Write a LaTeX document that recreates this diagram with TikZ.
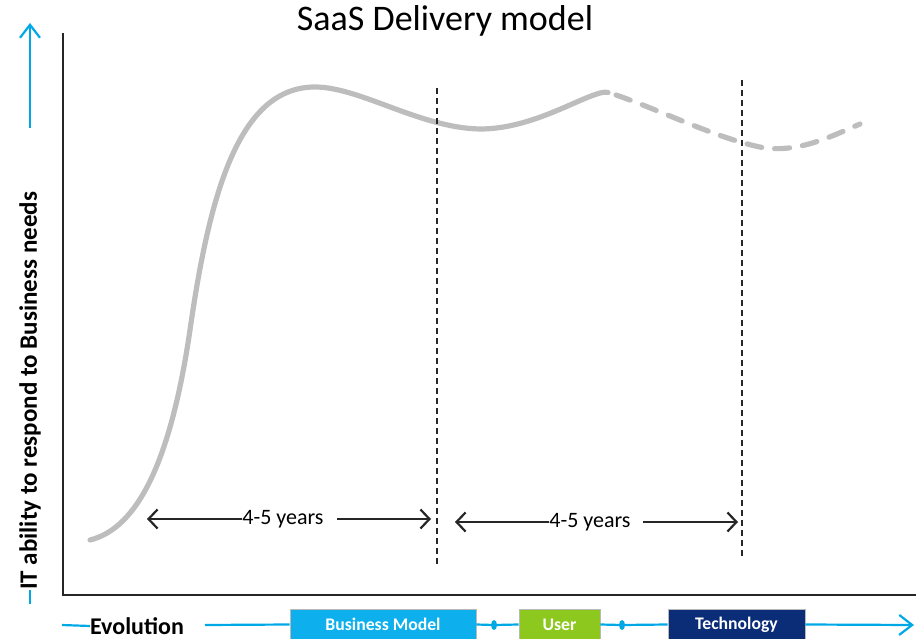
\documentclass[tikz,border=0pt]{standalone}
\usepackage{fontspec}
\setmainfont{Carlito}
\usetikzlibrary{arrows.meta,shapes.geometric}
\definecolor{axisgray}{HTML}{262626}
\definecolor{curvegray}{HTML}{BDBDBD}
\definecolor{evoblue}{HTML}{00A9E6}
\definecolor{bizblue}{HTML}{0DB0EC}
\definecolor{usergreen}{HTML}{8CC81E}
\definecolor{technavy}{HTML}{0B2D78}
\tikzset{
  axis/.style={line width=2pt,color=axisgray},
  curve/.style={line width=5.2pt,color=curvegray,line cap=round},
  period/.style={line width=1.4pt,color=axisgray,dash pattern=on 6pt off 4pt},
  span/.style={line width=2.2pt,color=axisgray,-{Straight Barb[length=9pt,width=19pt]}},
  evoline/.style={line width=2.2pt,color=evoblue},
  evoarrow/.style={evoline,-{Straight Barb[length=13pt,width=20pt]}},
  stage/.style={draw=gray!55,line width=0.6pt,minimum height=31pt,inner sep=0pt,text=white,font=\bfseries\fontsize{17.7}{17.7}\selectfont},
  dot/.style={ellipse,fill=evoblue,inner sep=0pt,minimum width=6pt,minimum height=10pt}
}
\begin{document}
\begin{tikzpicture}[x=1pt,y=-1pt]
\useasboundingbox (0,0) rectangle (916,639);
\node (title) at (445,21) [font=\fontsize{36}{36}\selectfont] {SaaS Delivery model};
\coordinate (ytop) at (63,33);
\coordinate (origin) at (63,595);
\coordinate (xend) at (916,595);
\draw[axis] (ytop) -- (origin) -- (xend);
\draw[curve] (90,540) .. controls (130,530) and (168,480) .. (190,330)
  .. controls (210,190) and (240,87) .. (315,87)
  .. controls (360,87) and (420,128) .. (480,129)
  .. controls (530,129) and (575,100) .. (600,93)
  .. controls (603,92) and (606,92) .. (608,92.5);
\draw[curve,dash pattern=on 15pt off 13pt] (616,95) .. controls (660,110) and (720,140) .. (765,148)
  .. controls (800,152) and (830,137) .. (860,124);
\coordinate (p1top) at (437,88);
\coordinate (p1bot) at (437,565);
\coordinate (p2top) at (742,80);
\coordinate (p2bot) at (742,556);
\draw[period] (p1top) -- (p1bot);
\draw[period] (p2top) -- (p2bot);
\node (span1) at (283,519) [inner sep=0pt,font=\fontsize{22}{22}\selectfont] {4-5 years};
\coordinate (span1l) at (147,519);
\coordinate (span1r) at (431,519);
\coordinate (span1gap) at (337,519);
\draw[span] (span1.west) -- (span1l);
\draw[span] (span1gap) -- (span1r);
\node (span2) at (590,522) [inner sep=0pt,font=\fontsize{22}{22}\selectfont] {4-5 years};
\coordinate (span2l) at (455,522);
\coordinate (span2r) at (738,522);
\coordinate (span2gap) at (643,522);
\draw[span] (span2.west) -- (span2l);
\draw[span] (span2gap) -- (span2r);
\node (ylabel) at (30,391) [rotate=90,inner sep=0pt,font=\bfseries\fontsize{25}{25}\selectfont] {IT ability to respond to Business needs};
\coordinate (ybase) at (30,604);
\coordinate (ytail) at (30,128);
\coordinate (ytip) at (30,23);
\draw[evoline] (ybase) -- (ylabel.west);
\draw[evoarrow] (ytail) -- (ytip);
\node (evolution) at (137,626) [inner sep=0pt,font=\bfseries\fontsize{24}{24}\selectfont] {Evolution};
\coordinate (xstart) at (62,625);
\coordinate (evogap) at (205,625);
\coordinate (xtip) at (914,625);
\node (biz) at (383,624.5) [stage,fill=bizblue,minimum width=186pt] {Business Model};
\node (user) at (559.5,624.5) [stage,fill=usergreen,minimum width=81pt] {User};
\node (tech) at (736.5,624.5) [stage,fill=technavy,minimum width=137pt] {Technology};
\node (dot1) at (494,625) [dot] {};
\node (dot2) at (622,625) [dot] {};
\draw[evoline] (xstart) -- (evolution.west);
\draw[evoline] (evogap) -- (biz.west);
\draw[evoline] (biz.east) -- (dot1) -- (user.west);
\draw[evoline] (user.east) -- (dot2) -- (tech.west);
\draw[evoarrow] (tech.east) -- (xtip);
\end{tikzpicture}
\end{document}
